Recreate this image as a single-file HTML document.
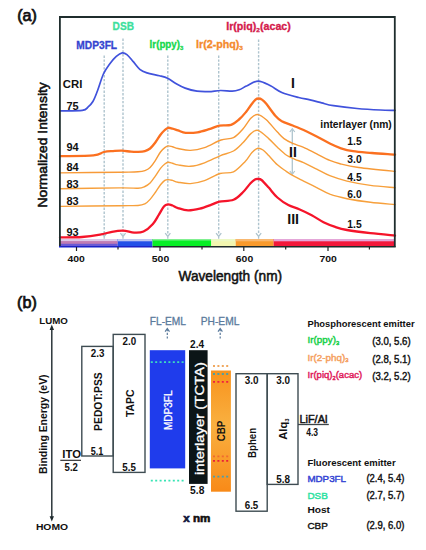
<!DOCTYPE html>
<html><head><meta charset="utf-8"><style>
html,body{margin:0;padding:0;background:#fff;}
svg{display:block;font-family:"Liberation Sans", sans-serif;}
</style></head><body>
<svg width="426" height="550" viewBox="0 0 426 550">
<rect width="426" height="550" fill="#fff"/>
<text x="17.2" y="20.7" font-size="16.50" font-weight="normal" fill="#111" textLength="19.8" lengthAdjust="spacingAndGlyphs" stroke="#111" stroke-width="0.75">(a)</text>
<line x1="104.2" y1="55.5" x2="104.2" y2="234.5" stroke="#aec4ce" stroke-width="1.4" stroke-dasharray="2.4,1.5" fill="none"/>
<path d="M101.6,233.2 L104.2,236.4 L106.8,233.2 M104.2,236.4 L104.2,238.8" stroke="#aec4ce" stroke-width="1.3" fill="none"/>
<line x1="123.0" y1="38.5" x2="123.0" y2="234.5" stroke="#aec4ce" stroke-width="1.4" stroke-dasharray="2.4,1.5" fill="none"/>
<path d="M120.4,233.2 L123.0,236.4 L125.6,233.2 M123.0,236.4 L123.0,238.8" stroke="#aec4ce" stroke-width="1.3" fill="none"/>
<line x1="167.8" y1="55.5" x2="167.8" y2="234.5" stroke="#aec4ce" stroke-width="1.4" stroke-dasharray="2.4,1.5" fill="none"/>
<path d="M165.2,233.2 L167.8,236.4 L170.4,233.2 M167.8,236.4 L167.8,238.8" stroke="#aec4ce" stroke-width="1.3" fill="none"/>
<line x1="218.7" y1="55.5" x2="218.7" y2="234.5" stroke="#aec4ce" stroke-width="1.4" stroke-dasharray="2.4,1.5" fill="none"/>
<path d="M216.1,233.2 L218.7,236.4 L221.3,233.2 M218.7,236.4 L218.7,238.8" stroke="#aec4ce" stroke-width="1.3" fill="none"/>
<line x1="258.6" y1="39.5" x2="258.6" y2="234.5" stroke="#aec4ce" stroke-width="1.4" stroke-dasharray="2.4,1.5" fill="none"/>
<path d="M256.0,233.2 L258.6,236.4 L261.2,233.2 M258.6,236.4 L258.6,238.8" stroke="#aec4ce" stroke-width="1.3" fill="none"/>
<line x1="292.3" y1="130" x2="292.3" y2="145.5" stroke="#aec4ce" stroke-width="1.3"/>
<line x1="292.3" y1="158.5" x2="292.3" y2="173" stroke="#aec4ce" stroke-width="1.3"/>
<path d="M289.8,132 L292.3,128.7 L294.8,132" stroke="#aec4ce" stroke-width="1.2" fill="none"/>
<path d="M289.8,171 L292.3,174.3 L294.8,171" stroke="#aec4ce" stroke-width="1.2" fill="none"/>
<defs><pattern id="chk" width="2" height="2" patternUnits="userSpaceOnUse"><rect width="2" height="2" fill="#6a64e4"/><rect width="1" height="1" fill="#e4709a"/><rect x="1" y="1" width="1" height="1" fill="#e4709a"/></pattern></defs>
<rect x="60.0" y="239.0" width="57.5" height="7.2" fill="#c07cb4"/>
<rect x="60.0" y="239.0" width="57.5" height="2.3" fill="#dcc8e8"/>
<rect x="117.5" y="239.0" width="35.0" height="7.2" fill="#2250e8"/>
<rect x="117.5" y="239.0" width="35.0" height="2.3" fill="#bcc4f0"/>
<rect x="152.5" y="239.0" width="58.8" height="7.2" fill="#08ee26"/>
<rect x="152.5" y="239.0" width="58.8" height="1.5" fill="#80f090"/>
<rect x="211.3" y="239.0" width="24.4" height="7.2" fill="#f2f6b0"/>
<rect x="211.3" y="239.0" width="24.4" height="2.3" fill="#ecf8c4"/>
<rect x="235.7" y="239.0" width="37.9" height="7.2" fill="#f89a2c"/>
<rect x="235.7" y="239.0" width="37.9" height="2.3" fill="#f8b870"/>
<rect x="273.6" y="239.0" width="120.9" height="7.2" fill="#f2183a"/>
<rect x="273.6" y="239.0" width="120.9" height="2.3" fill="#e4a6d8"/>
<rect x="60" y="241.3" width="57.5" height="2.5" fill="#c07cb4"/>
<rect x="60" y="243.8" width="57.5" height="2.4" fill="#6a5ad4"/>
<path d="M60.0,110.9 C63.7,110.8 77.6,111.1 82.3,110.4 C87.0,109.7 86.4,108.4 88.2,106.9 C90.0,105.4 91.3,104.2 92.9,101.5 C94.5,98.8 95.8,95.1 97.6,90.5 C99.3,85.9 101.5,78.3 103.4,74.0 C105.4,69.7 107.2,67.5 109.3,64.6 C111.4,61.7 114.1,58.3 116.3,56.4 C118.5,54.5 120.4,53.2 122.2,52.9 C124.0,52.6 125.1,53.2 126.9,54.6 C128.7,56.0 130.7,58.7 132.8,61.1 C135.0,63.5 137.5,67.3 139.8,69.3 C142.2,71.3 143.6,71.8 146.9,72.9 C150.2,74.0 156.0,74.8 159.4,75.7 C162.8,76.6 164.9,77.0 167.6,78.3 C170.3,79.6 172.9,81.8 175.8,83.4 C178.7,85.0 181.7,86.8 185.2,88.1 C188.7,89.4 193.1,90.6 197.0,91.2 C200.9,91.8 204.8,91.7 208.7,91.6 C212.6,91.5 216.5,90.6 220.4,90.5 C224.3,90.4 229.1,91.3 232.2,91.2 C235.3,91.1 236.7,90.7 239.2,89.8 C241.7,88.9 243.8,87.2 247.0,85.8 C250.2,84.3 254.4,81.1 258.3,81.1 C262.2,81.1 266.6,83.9 270.5,85.8 C274.4,87.7 277.1,90.5 281.8,92.5 C286.5,94.5 294.0,96.3 298.7,97.5 C303.4,98.7 306.2,99.0 310.0,99.9 C313.8,100.8 317.8,101.9 321.7,102.9 C325.6,103.9 327.6,104.8 333.5,105.7 C339.4,106.6 349.2,107.8 357.0,108.5 C364.8,109.2 374.1,109.7 380.4,110.0 C386.7,110.3 392.6,110.3 395.0,110.4" stroke="#4052dc" stroke-width="1.7" fill="none" stroke-linejoin="round" stroke-linecap="round"/>
<path d="M60.0,206.4 C70.0,206.3 107.0,205.8 120.0,205.7 C133.0,205.5 133.8,205.8 138.0,205.5 C142.2,205.2 142.9,204.8 144.9,203.8 C146.9,202.8 148.4,201.3 150.1,199.4 C151.8,197.5 153.6,194.9 155.3,192.5 C157.0,190.1 158.9,186.8 160.5,184.8 C162.1,182.8 163.5,181.3 164.8,180.4 C166.1,179.5 166.9,179.6 168.2,179.6 C169.5,179.6 170.9,180.0 172.5,180.4 C174.1,180.8 175.0,181.7 178.0,182.2 C181.0,182.7 186.0,183.9 190.4,183.6 C194.8,183.3 199.6,182.3 204.5,180.6 C209.4,178.9 215.2,175.0 220.0,173.5 C224.8,172.0 229.3,173.8 233.5,171.8 C237.7,169.8 242.1,164.7 245.2,161.5 C248.3,158.3 249.9,154.7 252.0,152.5 C254.1,150.3 256.2,148.7 258.0,148.3 C259.8,147.9 261.2,148.8 263.0,150.0 C264.8,151.2 266.3,153.0 268.7,155.5 C271.1,158.0 274.5,162.2 277.4,164.8 C280.3,167.4 283.3,169.3 286.2,171.3 C289.1,173.3 292.0,175.1 294.9,176.7 C297.8,178.3 300.0,179.3 303.6,181.1 C307.2,182.9 312.3,185.4 316.7,187.6 C321.1,189.8 324.8,192.3 329.8,194.2 C334.9,196.0 340.2,197.3 347.0,198.7 C353.8,200.0 362.4,201.3 370.4,202.3 C378.4,203.3 390.9,204.2 395.0,204.6" stroke="#f7a03c" stroke-width="1.4" fill="none" stroke-linejoin="round" stroke-linecap="round"/>
<path d="M60.0,188.8 C70.0,188.7 107.0,188.0 120.0,187.9 C133.0,187.8 133.8,188.4 138.0,188.2 C142.2,188.0 142.9,187.4 144.9,186.5 C146.9,185.6 148.4,184.7 150.1,183.0 C151.8,181.3 153.6,178.5 155.3,176.1 C157.0,173.7 158.9,170.4 160.5,168.4 C162.1,166.4 163.5,165.0 164.8,164.0 C166.1,163.0 166.9,162.4 168.2,162.3 C169.5,162.2 170.9,162.8 172.5,163.2 C174.1,163.6 175.0,164.4 178.0,164.9 C181.0,165.4 186.0,166.7 190.4,166.3 C194.8,166.0 199.6,164.6 204.5,162.8 C209.4,161.1 215.2,157.8 220.0,155.8 C224.8,153.8 229.7,153.2 233.5,151.0 C237.3,148.8 240.0,145.7 242.9,142.8 C245.8,139.9 248.6,135.5 251.1,133.4 C253.6,131.3 255.2,129.5 258.1,130.4 C261.0,131.3 265.5,135.8 268.7,138.6 C271.9,141.4 274.5,144.6 277.4,147.3 C280.3,150.0 283.3,153.0 286.2,155.0 C289.1,157.0 292.0,158.0 294.9,159.3 C297.8,160.6 300.0,161.0 303.6,162.6 C307.2,164.2 312.3,166.9 316.7,169.1 C321.1,171.3 324.8,173.7 329.8,175.7 C334.9,177.7 340.2,179.5 347.0,181.1 C353.8,182.7 362.4,184.3 370.4,185.4 C378.4,186.5 390.9,187.3 395.0,187.7" stroke="#f7a03c" stroke-width="1.4" fill="none" stroke-linejoin="round" stroke-linecap="round"/>
<path d="M60.0,172.9 C70.0,172.8 107.0,172.4 120.0,172.2 C133.0,172.0 133.8,172.1 138.0,171.8 C142.2,171.5 142.9,171.3 144.9,170.6 C146.9,169.9 148.4,169.2 150.1,167.5 C151.8,165.8 153.6,163.2 155.3,160.6 C157.0,158.0 158.9,154.2 160.5,152.0 C162.1,149.8 163.5,148.6 164.8,147.6 C166.1,146.6 166.9,146.0 168.2,145.9 C169.5,145.8 170.9,146.4 172.5,146.8 C174.1,147.2 175.0,147.9 178.0,148.5 C181.0,149.1 186.0,150.6 190.4,150.4 C194.8,150.2 199.4,149.3 204.5,147.6 C209.6,145.9 216.2,141.7 221.0,140.0 C225.8,138.3 229.8,139.4 233.5,137.6 C237.2,135.8 240.0,132.3 242.9,129.0 C245.8,125.7 248.6,120.4 251.1,118.0 C253.6,115.6 255.6,114.3 258.1,114.6 C260.6,114.9 263.1,116.9 266.3,119.8 C269.5,122.7 274.4,129.0 277.4,132.1 C280.3,135.2 281.4,136.7 284.0,138.6 C286.6,140.5 289.4,141.9 292.7,143.4 C296.0,144.9 299.6,145.6 303.6,147.3 C307.6,149.1 312.3,151.7 316.7,153.9 C321.1,156.1 325.9,158.8 329.8,160.4 C333.7,162.0 335.2,162.5 340.0,163.7 C344.8,164.9 349.5,166.2 358.7,167.5 C367.9,168.8 388.9,170.8 395.0,171.4" stroke="#f79a38" stroke-width="1.4" fill="none" stroke-linejoin="round" stroke-linecap="round"/>
<path d="M60.0,156.2 C65.6,156.0 86.1,156.0 93.4,155.3 C100.7,154.6 100.6,152.7 103.9,152.0 C107.2,151.3 110.0,151.3 113.0,151.1 C116.0,150.9 119.0,150.6 122.0,150.7 C125.0,150.8 128.3,151.5 131.0,151.7 C133.7,151.9 135.7,152.0 138.0,151.9 C140.3,151.8 142.9,151.7 144.9,151.1 C146.9,150.5 148.4,149.9 150.1,148.5 C151.8,147.1 153.6,144.8 155.3,142.5 C157.0,140.2 158.9,136.8 160.5,134.7 C162.1,132.6 163.5,131.2 164.8,130.0 C166.1,128.8 166.9,128.0 168.2,127.8 C169.5,127.6 170.9,128.2 172.5,128.6 C174.1,129.0 175.8,129.7 178.0,130.4 C180.2,131.1 182.4,132.5 185.7,132.8 C188.9,133.1 193.6,132.9 197.5,132.3 C201.4,131.7 205.5,130.3 209.2,129.2 C212.8,128.1 215.8,126.3 219.4,125.6 C223.1,124.9 227.8,125.9 231.1,124.8 C234.4,123.7 237.0,121.1 239.5,119.0 C242.0,116.9 244.1,114.3 246.0,112.0 C247.9,109.7 249.4,107.1 251.0,105.0 C252.6,102.9 254.2,100.7 255.5,99.6 C256.8,98.5 257.5,98.5 258.6,98.5 C259.7,98.5 260.7,98.7 262.0,99.6 C263.3,100.5 264.1,101.1 266.3,103.8 C268.5,106.5 272.7,112.8 275.3,115.7 C277.9,118.6 278.9,119.6 281.8,121.2 C284.7,122.8 289.1,124.0 292.7,125.5 C296.3,127.0 299.6,128.2 303.6,130.0 C307.6,131.8 312.3,134.2 316.7,136.5 C321.1,138.8 325.8,141.5 329.8,143.5 C333.9,145.5 337.1,147.0 341.0,148.3 C344.9,149.6 347.8,150.4 353.0,151.2 C358.2,152.0 365.0,152.4 372.0,153.0 C379.0,153.6 391.2,154.3 395.0,154.6" stroke="#fb7020" stroke-width="2.3" fill="none" stroke-linejoin="round" stroke-linecap="round"/>
<path d="M60.0,237.4 C63.7,237.3 75.3,237.5 82.0,237.0 C88.7,236.5 95.0,235.5 100.0,234.6 C105.0,233.7 108.2,232.5 112.0,231.8 C115.8,231.1 119.3,230.5 123.0,230.6 C126.7,230.7 130.7,232.4 134.1,232.6 C137.5,232.8 140.4,232.9 143.5,231.5 C146.6,230.1 150.4,226.8 152.9,224.0 C155.4,221.2 156.9,217.9 158.7,215.0 C160.5,212.1 162.3,208.2 163.9,206.4 C165.5,204.6 166.8,204.5 168.2,204.3 C169.6,204.2 170.9,204.9 172.5,205.5 C174.1,206.1 175.4,207.3 178.0,208.1 C180.6,208.9 184.5,210.3 188.1,210.4 C191.7,210.5 195.9,209.6 199.8,208.7 C203.7,207.8 208.2,205.9 211.5,204.7 C214.8,203.5 215.7,202.4 219.4,201.6 C223.1,200.8 229.6,201.4 233.5,199.8 C237.4,198.2 240.1,195.1 242.9,192.3 C245.7,189.5 248.5,185.3 250.5,183.2 C252.5,181.1 253.8,180.2 255.0,179.5 C256.2,178.8 256.9,178.9 258.0,179.0 C259.1,179.1 259.7,178.6 261.5,180.0 C263.3,181.4 266.1,184.7 268.7,187.6 C271.3,190.5 274.1,194.6 277.4,197.5 C280.7,200.4 284.7,203.2 288.3,205.1 C291.9,207.0 295.3,207.5 299.2,209.2 C303.1,210.9 307.6,213.0 311.7,215.2 C315.8,217.4 319.6,220.2 323.5,222.2 C327.4,224.1 331.3,225.6 335.2,226.9 C339.1,228.2 341.1,228.9 347.0,230.0 C352.9,231.1 362.4,232.3 370.4,233.2 C378.4,234.1 390.9,235.2 395.0,235.6" stroke="#f5142a" stroke-width="2.3" fill="none" stroke-linejoin="round" stroke-linecap="round"/>
<path d="M59.9,246.7 L59.9,17 L394.8,17 L394.8,246.7" fill="none" stroke="#1f2d2d" stroke-width="1.8"/>
<line x1="59" y1="246.7" x2="152.5" y2="246.7" stroke="#1a22c8" stroke-width="1.6"/>
<line x1="152.5" y1="246.7" x2="395.7" y2="246.7" stroke="#1f2a2a" stroke-width="1.6"/>
<line x1="76.5" y1="247" x2="76.5" y2="251" stroke="#222" stroke-width="1.2"/>
<line x1="160.0" y1="247" x2="160.0" y2="251" stroke="#222" stroke-width="1.2"/>
<line x1="243.8" y1="247" x2="243.8" y2="251" stroke="#222" stroke-width="1.2"/>
<line x1="328.0" y1="247" x2="328.0" y2="251" stroke="#222" stroke-width="1.2"/>
<line x1="118.0" y1="247" x2="118.0" y2="249.5" stroke="#222" stroke-width="1.2"/>
<line x1="202.0" y1="247" x2="202.0" y2="249.5" stroke="#222" stroke-width="1.2"/>
<line x1="285.7" y1="247" x2="285.7" y2="249.5" stroke="#222" stroke-width="1.2"/>
<line x1="369.4" y1="247" x2="369.4" y2="249.5" stroke="#222" stroke-width="1.2"/>
<text x="67.5" y="262.4" font-size="9.20" font-weight="bold" fill="#111" textLength="17.4" lengthAdjust="spacingAndGlyphs">400</text>
<text x="151.8" y="262.4" font-size="9.20" font-weight="bold" fill="#111" textLength="17.4" lengthAdjust="spacingAndGlyphs">500</text>
<text x="235.8" y="262.4" font-size="9.20" font-weight="bold" fill="#111" textLength="17.4" lengthAdjust="spacingAndGlyphs">600</text>
<text x="319.5" y="262.4" font-size="9.20" font-weight="bold" fill="#111" textLength="17.4" lengthAdjust="spacingAndGlyphs">700</text>
<text x="178.5" y="281.3" font-size="14.60" font-weight="normal" fill="#111" textLength="103.6" lengthAdjust="spacingAndGlyphs" stroke="#111" stroke-width="0.55">Wavelength (nm)</text>
<text x="47.4" y="207.4" font-size="13.00" font-weight="normal" fill="#111" textLength="125.2" lengthAdjust="spacingAndGlyphs" transform="rotate(-90 47.4 207.4)" stroke="#111" stroke-width="0.55">Normalized Intensity</text>
<text x="112.6" y="30.0" font-size="10.40" font-weight="bold" fill="#3ddf9c" textLength="21.4" lengthAdjust="spacingAndGlyphs" stroke="#3ddf9c" stroke-width="0.3">DSB</text>
<text x="76.3" y="48.8" font-size="10.40" font-weight="bold" fill="#3444d0" textLength="40.8" lengthAdjust="spacingAndGlyphs" stroke="#3444d0" stroke-width="0.3">MDP3FL</text>
<text x="149.6" y="47.8" font-size="10.2" font-weight="bold" fill="#14d84c" stroke="#14d84c" stroke-width="0.3" textLength="33.8" lengthAdjust="spacingAndGlyphs">Ir(ppy)<tspan font-size="6.2" dy="1.8">3</tspan></text>
<text x="196.0" y="47.8" font-size="10.2" font-weight="bold" fill="#f48a2c" stroke="#f48a2c" stroke-width="0.3" textLength="47" lengthAdjust="spacingAndGlyphs">Ir(2-phq)<tspan font-size="6.2" dy="1.8">3</tspan></text>
<text x="226.2" y="29.8" font-size="10.2" font-weight="bold" fill="#d41a4c" stroke="#d41a4c" stroke-width="0.3" textLength="64.6" lengthAdjust="spacingAndGlyphs">Ir(piq)<tspan font-size="6.2" dy="1.8">2</tspan><tspan dy="-1.8">(acac)</tspan></text>
<text x="62.8" y="88.1" font-size="10.70" font-weight="bold" fill="#111" textLength="19.5" lengthAdjust="spacingAndGlyphs">CRI</text>
<text x="66.5" y="109.7" font-size="11.00" font-weight="bold" fill="#111" textLength="12.2" lengthAdjust="spacingAndGlyphs">75</text>
<text x="66.5" y="151.1" font-size="11.00" font-weight="bold" fill="#111" textLength="12.2" lengthAdjust="spacingAndGlyphs">94</text>
<text x="66.5" y="170.6" font-size="11.00" font-weight="bold" fill="#111" textLength="12.2" lengthAdjust="spacingAndGlyphs">84</text>
<text x="66.5" y="187.6" font-size="11.00" font-weight="bold" fill="#111" textLength="12.2" lengthAdjust="spacingAndGlyphs">83</text>
<text x="66.5" y="204.7" font-size="11.00" font-weight="bold" fill="#111" textLength="12.2" lengthAdjust="spacingAndGlyphs">83</text>
<text x="66.5" y="235.7" font-size="11.00" font-weight="bold" fill="#111" textLength="12.2" lengthAdjust="spacingAndGlyphs">93</text>
<text x="291.0" y="88.1" font-size="14.00" font-weight="bold" fill="#111">I</text>
<text x="289.0" y="157.2" font-size="14.00" font-weight="bold" fill="#111">II</text>
<text x="287.2" y="223.7" font-size="14.20" font-weight="bold" fill="#111">III</text>
<text x="320.3" y="128.4" font-size="10.80" font-weight="bold" fill="#111" textLength="71.5" lengthAdjust="spacingAndGlyphs">interlayer (nm)</text>
<text x="347.3" y="145.0" font-size="10.80" font-weight="bold" fill="#111" textLength="14.4" lengthAdjust="spacingAndGlyphs">1.5</text>
<text x="347.3" y="163.0" font-size="10.80" font-weight="bold" fill="#111" textLength="14.4" lengthAdjust="spacingAndGlyphs">3.0</text>
<text x="347.3" y="181.2" font-size="10.80" font-weight="bold" fill="#111" textLength="14.4" lengthAdjust="spacingAndGlyphs">4.5</text>
<text x="347.3" y="198.3" font-size="10.80" font-weight="bold" fill="#111" textLength="14.4" lengthAdjust="spacingAndGlyphs">6.0</text>
<text x="347.3" y="228.3" font-size="10.80" font-weight="bold" fill="#111" textLength="14.4" lengthAdjust="spacingAndGlyphs">1.5</text>
<text x="17.0" y="308.4" font-size="16.50" font-weight="normal" fill="#111" textLength="19.8" lengthAdjust="spacingAndGlyphs" stroke="#111" stroke-width="0.75">(b)</text>
<text x="39.3" y="323.7" font-size="9.00" font-weight="bold" fill="#111" textLength="28.6" lengthAdjust="spacingAndGlyphs">LUMO</text>
<text x="35.9" y="530.3" font-size="8.90" font-weight="bold" fill="#111" textLength="32.2" lengthAdjust="spacingAndGlyphs">HOMO</text>
<line x1="51.8" y1="328" x2="51.8" y2="518" stroke="#1e2a2e" stroke-width="1.4"/>
<path d="M49.6,330 L51.8,324.6 L54.0,330 Z" fill="#1e2a2e"/>
<path d="M49.6,516.2 L51.8,521.6 L54.0,516.2 Z" fill="#1e2a2e"/>
<text x="47.4" y="474.0" font-size="11.50" font-weight="bold" fill="#111" textLength="99.6" lengthAdjust="spacingAndGlyphs" transform="rotate(-90 47.4 474.0)">Binding Energy (eV)</text>
<rect x="81.8" y="346.4" width="31.4" height="109.6" fill="none" stroke="#3e4c52" stroke-width="1.4"/>
<rect x="113.2" y="334.4" width="31.8" height="138" fill="none" stroke="#3e4c52" stroke-width="1.4"/>
<text x="62.3" y="457.8" font-size="11.00" font-weight="bold" fill="#111" textLength="18.7" lengthAdjust="spacingAndGlyphs">ITO</text>
<line x1="60.3" y1="460.3" x2="81" y2="460.3" stroke="#222" stroke-width="1.1"/>
<text x="64.6" y="471.3" font-size="10.20" font-weight="bold" fill="#111" textLength="13.3" lengthAdjust="spacingAndGlyphs">5.2</text>
<text x="90.8" y="356.8" font-size="10.20" font-weight="bold" fill="#111" textLength="13.6" lengthAdjust="spacingAndGlyphs">2.3</text>
<text x="90.8" y="454.6" font-size="10.20" font-weight="bold" fill="#111" textLength="12.6" lengthAdjust="spacingAndGlyphs">5.1</text>
<text x="102.3" y="430.9" font-size="10.00" font-weight="bold" fill="#111" textLength="58.6" lengthAdjust="spacingAndGlyphs" transform="rotate(-90 102.3 430.9)">PEDOT:PSS</text>
<text x="122.5" y="344.9" font-size="10.20" font-weight="bold" fill="#111" textLength="13.6" lengthAdjust="spacingAndGlyphs">2.0</text>
<text x="122.3" y="470.7" font-size="10.20" font-weight="bold" fill="#111" textLength="13.6" lengthAdjust="spacingAndGlyphs">5.5</text>
<text x="133.7" y="417.0" font-size="10.00" font-weight="bold" fill="#111" textLength="27.6" lengthAdjust="spacingAndGlyphs" transform="rotate(-90 133.7 417.0)">TAPC</text>
<rect x="149.8" y="350.2" width="35.4" height="118.2" fill="#1f3cec"/>
<line x1="150.8" y1="362.2" x2="185" y2="362.2" stroke="#3cdcc0" stroke-width="1.7" stroke-dasharray="2,2.4"/>
<line x1="150.8" y1="480.6" x2="185" y2="480.6" stroke="#38e4b4" stroke-width="1.7" stroke-dasharray="2,2.4"/>
<text x="171.6" y="430.0" font-size="10.80" font-weight="normal" fill="#fff" textLength="39.6" lengthAdjust="spacingAndGlyphs" transform="rotate(-90 171.6 430.0)" stroke="#fff" stroke-width="0.3">MDP3FL</text>
<text x="149.8" y="325.1" font-size="10.40" font-weight="normal" fill="#5a7a9c" textLength="36.2" lengthAdjust="spacingAndGlyphs" stroke="#5a7a9c" stroke-width="0.3">FL-EML</text>
<text x="200.7" y="325.1" font-size="10.40" font-weight="normal" fill="#5a7a9c" textLength="38.7" lengthAdjust="spacingAndGlyphs" stroke="#5a7a9c" stroke-width="0.3">PH-EML</text>
<path d="M165.1,331.6 L167.3,328.6 L169.5,331.6" stroke="#5a7a9c" stroke-width="1.2" fill="none"/>
<line x1="167.3" y1="329" x2="167.3" y2="338.6" stroke="#5a7a9c" stroke-width="1.2" stroke-dasharray="2.2,1.6"/>
<path d="M218.0,331.6 L220.2,328.6 L222.4,331.6" stroke="#5a7a9c" stroke-width="1.2" fill="none"/>
<line x1="220.2" y1="329" x2="220.2" y2="338.6" stroke="#5a7a9c" stroke-width="1.2" stroke-dasharray="2.2,1.6"/>
<rect x="189" y="350.2" width="18.6" height="133.7" fill="#0c1517"/>
<text x="190.1" y="348.4" font-size="10.60" font-weight="bold" fill="#111" textLength="14.0" lengthAdjust="spacingAndGlyphs">2.4</text>
<text x="190.1" y="494.1" font-size="10.40" font-weight="bold" fill="#111" textLength="14.3" lengthAdjust="spacingAndGlyphs">5.8</text>
<text x="203.8" y="475.0" font-size="12.00" font-weight="normal" fill="#fff" textLength="113.0" lengthAdjust="spacingAndGlyphs" transform="rotate(-90 203.8 475.0)" stroke="#fff" stroke-width="0.3">interlayer (TCTA)</text>
<defs><linearGradient id="cbp" x1="0" y1="0" x2="0" y2="1"><stop offset="0" stop-color="#f8921c"/><stop offset="0.45" stop-color="#f9b040"/><stop offset="1" stop-color="#f88a18"/></linearGradient></defs>
<rect x="211" y="370.5" width="19.9" height="121.2" fill="url(#cbp)"/>
<line x1="213" y1="366.0" x2="230.5" y2="366.0" stroke="#f0a860" stroke-width="1.8" stroke-dasharray="2,2.4"/>
<line x1="213" y1="374.0" x2="230.5" y2="374.0" stroke="#4aa0a8" stroke-width="1.8" stroke-dasharray="2,2.4"/>
<line x1="213" y1="381.8" x2="230.5" y2="381.8" stroke="#ee2040" stroke-width="1.8" stroke-dasharray="2,2.4"/>
<line x1="213" y1="456.3" x2="230.5" y2="456.3" stroke="#f06a30" stroke-width="1.8" stroke-dasharray="2,2.4"/>
<line x1="213" y1="460.8" x2="230.5" y2="460.8" stroke="#ea2038" stroke-width="1.8" stroke-dasharray="2,2.4"/>
<line x1="213" y1="476.6" x2="230.5" y2="476.6" stroke="#48a0b0" stroke-width="1.8" stroke-dasharray="2,2.4"/>
<text x="225.2" y="441.3" font-size="10.00" font-weight="bold" fill="#111" textLength="20.6" lengthAdjust="spacingAndGlyphs" transform="rotate(-90 225.2 441.3)">CBP</text>
<rect x="236" y="373.7" width="31.2" height="137.5" fill="none" stroke="#3e4c52" stroke-width="1.4"/>
<rect x="267.2" y="373.7" width="30.8" height="110.7" fill="none" stroke="#3e4c52" stroke-width="1.4"/>
<text x="244.7" y="383.6" font-size="10.00" font-weight="bold" fill="#111" textLength="13.8" lengthAdjust="spacingAndGlyphs">3.0</text>
<text x="276.3" y="383.6" font-size="10.00" font-weight="bold" fill="#111" textLength="13.8" lengthAdjust="spacingAndGlyphs">3.0</text>
<text x="255.7" y="458.0" font-size="10.40" font-weight="bold" fill="#111" textLength="30.2" lengthAdjust="spacingAndGlyphs" transform="rotate(-90 255.7 458.0)">Bphen</text>
<text x="287.4" y="439.8" font-size="11.20" font-weight="bold" fill="#111" transform="rotate(-90 287.4 439.8)">Alq<tspan font-size="6" dy="1.6">3</tspan></text>
<text x="276.3" y="482.7" font-size="10.20" font-weight="bold" fill="#111" textLength="13.8" lengthAdjust="spacingAndGlyphs">5.8</text>
<text x="244.7" y="509.4" font-size="10.00" font-weight="bold" fill="#111" textLength="13.6" lengthAdjust="spacingAndGlyphs">6.5</text>
<line x1="298" y1="424.5" x2="328.8" y2="424.5" stroke="#3c4448" stroke-width="1.3"/>
<text x="299.4" y="422.9" font-size="10.40" font-weight="normal" fill="#111" textLength="28.0" lengthAdjust="spacingAndGlyphs" stroke="#111" stroke-width="0.45">LiF/Al</text>
<text x="306.3" y="435.5" font-size="10.00" font-weight="bold" fill="#111" textLength="11.8" lengthAdjust="spacingAndGlyphs">4.3</text>
<text x="183.2" y="521.5" font-size="10.8" font-weight="bold" fill="#10163a" stroke="#10163a" stroke-width="0.6" textLength="27.2" lengthAdjust="spacingAndGlyphs">x <tspan fill="#111" stroke="#111">nm</tspan></text>
<text x="307.4" y="326.6" font-size="9.80" font-weight="bold" fill="#111" textLength="107.2" lengthAdjust="spacingAndGlyphs">Phosphorescent emitter</text>
<text x="307.6" y="343.2" font-size="9.8" font-weight="normal" fill="#18d048" stroke="#18d048" stroke-width="0.45">Ir(ppy)<tspan font-size="5.8" dy="1.3">3</tspan></text>
<text x="307.6" y="360.8" font-size="9.8" font-weight="normal" fill="#f5a060" stroke="#f5a060" stroke-width="0.45">Ir(2-phq)<tspan font-size="5.8" dy="1.3">3</tspan></text>
<text x="307.6" y="378.3" font-size="9.8" font-weight="normal" fill="#e0205a" stroke="#e0205a" stroke-width="0.45" textLength="54.6" lengthAdjust="spacingAndGlyphs">Ir(piq)<tspan font-size="5.8" dy="1.3">2</tspan><tspan dy="-1.3">(acac)</tspan></text>
<text x="372.2" y="345.3" font-size="10.00" font-weight="normal" fill="#111" textLength="38.4" lengthAdjust="spacingAndGlyphs" stroke="#111" stroke-width="0.4">(3.0, 5.6)</text>
<text x="372.2" y="362.7" font-size="10.00" font-weight="normal" fill="#111" textLength="38.4" lengthAdjust="spacingAndGlyphs" stroke="#111" stroke-width="0.4">(2.8, 5.1)</text>
<text x="372.2" y="379.9" font-size="10.00" font-weight="normal" fill="#111" textLength="38.4" lengthAdjust="spacingAndGlyphs" stroke="#111" stroke-width="0.4">(3.2, 5.2)</text>
<text x="307.4" y="466.4" font-size="9.80" font-weight="bold" fill="#111" textLength="88.2" lengthAdjust="spacingAndGlyphs">Fluorescent emitter</text>
<text x="307.4" y="481.6" font-size="9.80" font-weight="normal" fill="#3444d4" textLength="38.6" lengthAdjust="spacingAndGlyphs" stroke="#3444d4" stroke-width="0.45">MDP3FL</text>
<text x="366.4" y="481.6" font-size="10.00" font-weight="normal" fill="#111" textLength="38.0" lengthAdjust="spacingAndGlyphs" stroke="#111" stroke-width="0.4">(2.4, 5.4)</text>
<text x="307.4" y="499.2" font-size="9.80" font-weight="normal" fill="#2ee2a2" textLength="20.4" lengthAdjust="spacingAndGlyphs" stroke="#2ee2a2" stroke-width="0.45">DSB</text>
<text x="366.4" y="499.2" font-size="10.00" font-weight="normal" fill="#111" textLength="38.0" lengthAdjust="spacingAndGlyphs" stroke="#111" stroke-width="0.4">(2.7, 5.7)</text>
<text x="307.4" y="513.0" font-size="9.80" font-weight="bold" fill="#111" textLength="22.6" lengthAdjust="spacingAndGlyphs">Host</text>
<text x="307.4" y="529.2" font-size="9.80" font-weight="normal" fill="#111" textLength="20.4" lengthAdjust="spacingAndGlyphs" stroke="#111" stroke-width="0.4">CBP</text>
<text x="366.4" y="529.2" font-size="10.00" font-weight="normal" fill="#111" textLength="38.0" lengthAdjust="spacingAndGlyphs" stroke="#111" stroke-width="0.4">(2.9, 6.0)</text>
</svg>
</body></html>
